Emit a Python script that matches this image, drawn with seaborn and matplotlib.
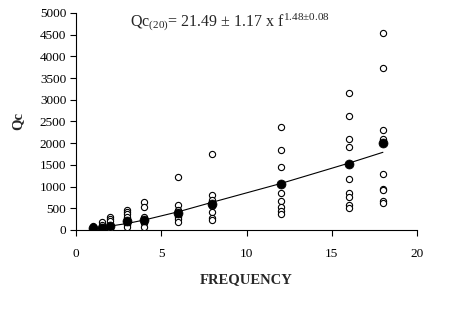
import numpy as np
import pandas as pd
import matplotlib
matplotlib.use("Agg")
import matplotlib.pyplot as plt
import seaborn as sns

# individual observations (open circles)
obs_freq = ([1] * 5 + [1.5] * 4 + [2] * 6 + [3] * 6 + [4] * 5 + [6] * 6
            + [8] * 7 + [12] * 8 + [16] * 9 + [18] * 9)
obs_qc = [100, 60, 30, 20, 10,
          180, 120, 60, 30,
          300, 260, 200, 100, 40, 10,
          470, 420, 370, 300, 120, 60,
          650, 540, 300, 150, 80,
          1220, 570, 450, 300, 250, 180,
          1760, 800, 690, 560, 420, 270, 220,
          2380, 1850, 1460, 850, 660, 530, 430, 360,
          3150, 2620, 2090, 1920, 1170, 860, 770, 580, 500,
          4530, 3740, 2300, 2100, 1300, 950, 910, 660, 620]

# mean values (filled circles)
mean_freq = [1, 1.5, 2, 3, 4, 6, 8, 12, 16, 18]
mean_qc = [40, 55, 100, 200, 240, 400, 600, 1055, 1530, 2010]

# fitted curve
fit_freq = [1, 1.5, 2, 3, 4, 6, 8, 12, 16, 18]
fit_qc = [30, 55, 90, 150, 230, 420, 640, 1070, 1540, 1790]

x_ticks = [0, 5, 10, 15, 20]
y_ticks = list(range(0, 5001, 500))

sns.set_style("ticks")
plt.rcParams["font.family"] = ["Liberation Serif", "DejaVu Serif"]
plt.rcParams["mathtext.fontset"] = "custom"
plt.rcParams["mathtext.rm"] = "Liberation Serif"
plt.rcParams["mathtext.it"] = "Liberation Serif"

obs_df = pd.DataFrame({"freq": obs_freq, "qc": obs_qc})
mean_df = pd.DataFrame({"freq": mean_freq, "qc": mean_qc})
fit_df = pd.DataFrame({"freq": fit_freq, "qc": fit_qc})

fig = plt.figure(figsize=(4.58, 3.09), dpi=100)
ax = fig.add_axes([0.166, 0.2557, 0.7445, 0.7023])

sns.scatterplot(data=obs_df, x="freq", y="qc", ax=ax, marker="o", s=20,
                color="white", edgecolor="black", linewidth=0.8, zorder=3)
sns.lineplot(data=fit_df, x="freq", y="qc", ax=ax, color="black",
             linewidth=0.8, zorder=4)
sns.scatterplot(data=mean_df, x="freq", y="qc", ax=ax, marker="o", s=42,
                color="black", edgecolor="black", linewidth=0.5, zorder=5)

ax.set_xlim(0, 20)
ax.set_ylim(0, 5000)
ax.set_xticks(x_ticks)
ax.set_yticks(y_ticks)
ax.tick_params(axis="both", direction="out", length=4, width=0.8,
               labelsize=9.5, colors="black")
ax.tick_params(axis="x", pad=9)
ax.tick_params(axis="y", pad=3)
sns.despine(ax=ax)
for side in ["left", "bottom"]:
    ax.spines[side].set_color("black")
    ax.spines[side].set_linewidth(0.8)

ax.set_xlabel("FREQUENCY", fontsize=10.5, fontweight="bold")
ax.xaxis.set_label_coords(0.5, -0.23)
ax.xaxis.label.set_va("center")
ax.set_ylabel("Qc", fontsize=10.5, fontweight="bold")
ax.yaxis.set_label_coords(-0.17, 0.5)
ax.yaxis.label.set_va("center")

ax.text(0.158, 0.955, "Qc$_{(20)}$= 21.49 ± 1.17 x f$^{1.48±0.08}$",
        transform=ax.transAxes, fontsize=11.5, va="center", ha="left")

fig.savefig("out.png", dpi=100)
